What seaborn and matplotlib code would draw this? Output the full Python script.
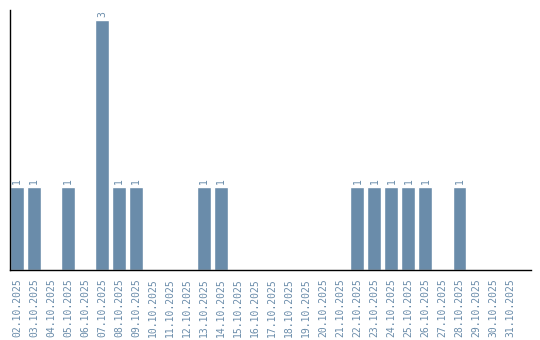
import matplotlib
matplotlib.use("Agg")
import matplotlib.pyplot as plt
import seaborn as sns
import pandas as pd

dates = ["02.10.2025", "03.10.2025", "04.10.2025", "05.10.2025", "06.10.2025",
         "07.10.2025", "08.10.2025", "09.10.2025", "10.10.2025", "11.10.2025",
         "12.10.2025", "13.10.2025", "14.10.2025", "15.10.2025", "16.10.2025",
         "17.10.2025", "18.10.2025", "19.10.2025", "20.10.2025", "21.10.2025",
         "22.10.2025", "23.10.2025", "24.10.2025", "25.10.2025", "26.10.2025",
         "27.10.2025", "28.10.2025", "29.10.2025", "30.10.2025", "31.10.2025"]
counts = [1, 1, 0, 1, 0, 3, 1, 1, 0, 0,
          0, 1, 1, 0, 0, 0, 0, 0, 0, 0,
          1, 1, 1, 1, 1, 0, 1, 0, 0, 0]

color = "#6a8caa"
df = pd.DataFrame({"date": dates, "count": counts})

sns.set_style("white")
plt.rcParams["font.family"] = ["DejaVu Sans Mono", "DejaVu Sans"]

fig = plt.figure(figsize=(5.4, 3.4), dpi=100)
ax = fig.add_axes([10 / 540, 70 / 340, 521 / 540, 260 / 340])
sns.barplot(data=df, x="date", y="count", color=color, saturation=1,
            width=0.82, ax=ax, order=dates)

ax.set_xlim(-0.41, 30.2)
ax.set_ylim(0, 3.12)
ax.set_xlabel("")
ax.set_ylabel("")
ax.set_yticks([])
ax.tick_params(axis="x", length=0, pad=6, labelsize=7, labelcolor=color)
plt.setp(ax.get_xticklabels(), rotation=90, va="top", ha="center")

for s in ["top", "right"]:
    ax.spines[s].set_visible(False)
for s in ["left", "bottom"]:
    ax.spines[s].set_color("black")
    ax.spines[s].set_linewidth(1)

for i, v in enumerate(counts):
    if v > 0:
        ax.annotate(str(v), (i, v), xytext=(0, 2), textcoords="offset points",
                    rotation=90, ha="center", va="bottom", fontsize=7, color=color)

fig.savefig("out.png", dpi=100)
